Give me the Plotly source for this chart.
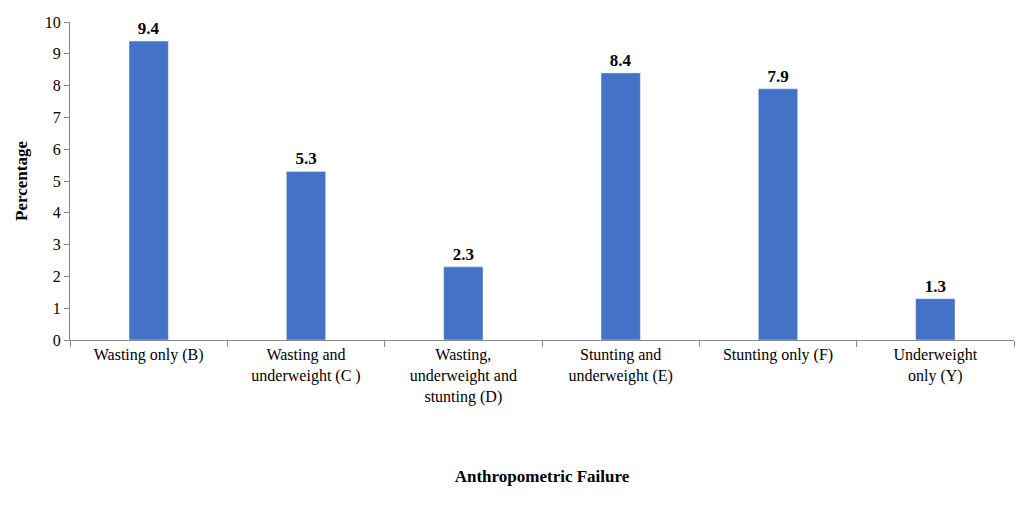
import plotly.graph_objects as go

categories = ["Wasting only (B)", "Wasting and<br>underweight (C )", "Wasting,<br>underweight and<br>stunting (D)",
              "Stunting and<br>underweight (E)", "Stunting only (F)", "Underweight<br>only (Y)"]
values = [9.4, 5.3, 2.3, 8.4, 7.9, 1.3]
labels = ["<b>9.4</b>", "<b>5.3</b>", "<b>2.3</b>", "<b>8.4</b>", "<b>7.9</b>", "<b>1.3</b>"]

font = "Liberation Serif, Times New Roman, serif"
fig = go.Figure(go.Bar(x=categories, y=values, text=labels, textposition="outside",
                       textfont=dict(family=font, size=17, color="black"),
                       marker_color="#4472C4", width=0.25, cliponaxis=False))
fig.update_layout(
    width=1024, height=513, plot_bgcolor="white", paper_bgcolor="white",
    margin=dict(l=62, r=18, t=14, b=181, autoexpand=False), showlegend=False,
    font=dict(family=font, size=16, color="black"), bargap=0.75,
)
fig.update_xaxes(showline=True, linecolor="#888", ticks="outside", tickcolor="#888",
                 tickson="boundaries", ticklen=6, tickfont=dict(size=16, family=font),
                 title=dict(text="<b>Anthropometric Failure</b>", standoff=65, font=dict(size=17)))
fig.update_yaxes(range=[0, 10], dtick=1, showline=True, linecolor="#888", ticks="outside",
                 tickcolor="#888", ticklen=5, showgrid=False, tickfont=dict(size=16),
                 title=dict(text="<b>Percentage</b>", font=dict(size=17), standoff=12))
fig.write_html("out.html")
